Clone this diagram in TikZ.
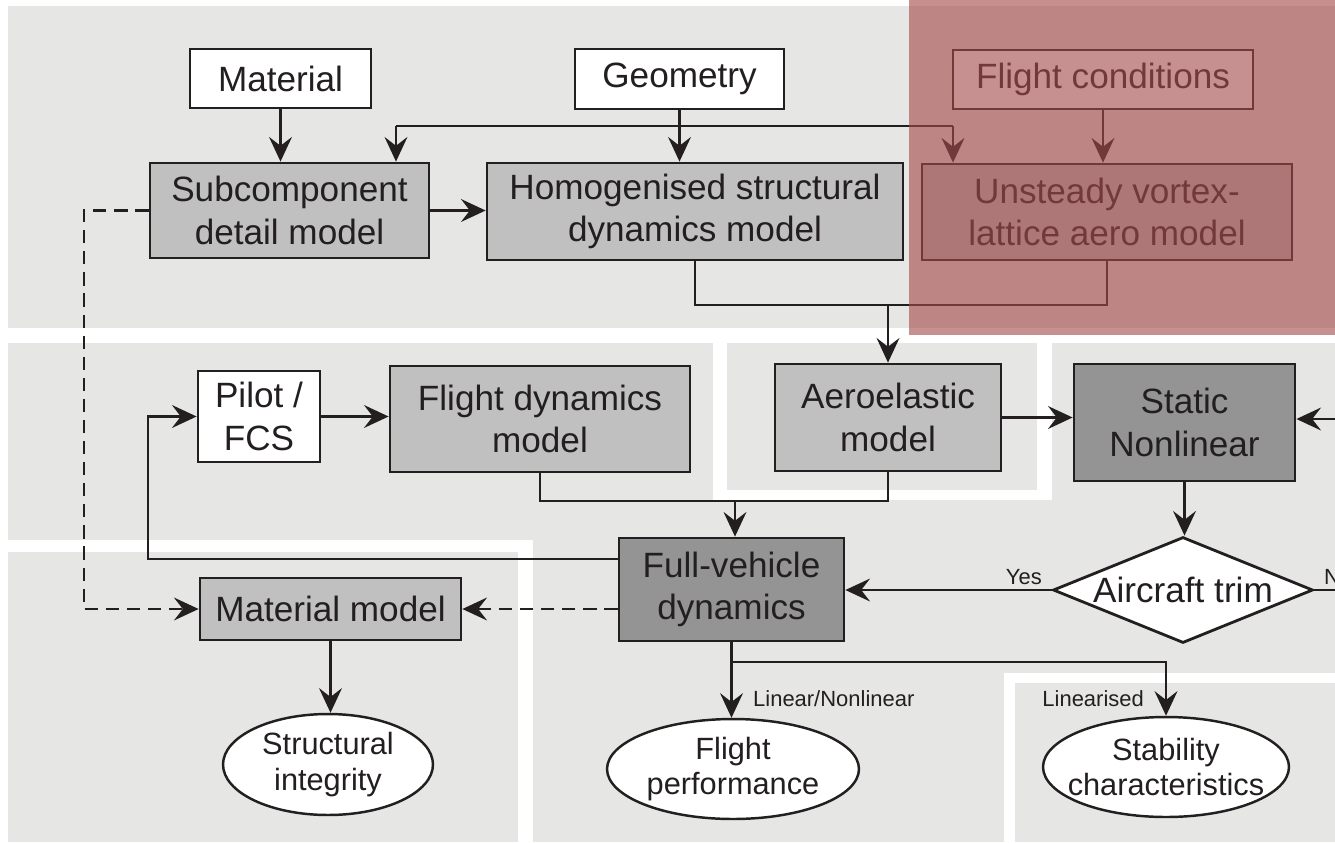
\documentclass[tikz,border=0pt]{standalone}
\usepackage{fontspec}
\setmainfont{Liberation Sans}
\usetikzlibrary{shapes.geometric,arrows.meta}
\definecolor{panel}{RGB}{230,230,228}
\definecolor{ink}{RGB}{35,31,32}
\definecolor{boxlight}{RGB}{192,192,192}
\definecolor{boxdark}{RGB}{148,148,148}
\definecolor{aerored}{RGB}{164,74,74}
\begin{document}
\begin{tikzpicture}[y=-0.02cm,x=0.02cm,
  every node/.style={font=\fontsize{20}{24}\selectfont,text=ink,align=center},
  blk/.style={draw=ink,line width=1.6pt,rectangle,inner sep=0pt},
  inbox/.style={blk,fill=white},
  mdl/.style={blk,fill=boxlight},
  core/.style={blk,fill=boxdark},
  outc/.style={draw=ink,line width=1.4pt,ellipse,fill=white,inner xsep=-15pt,inner ysep=-2pt,font=\fontsize{17.5}{20}\selectfont},
  dec/.style={draw=ink,line width=1.6pt,diamond,fill=white,inner sep=0pt,shape aspect=2.45},
  lbl/.style={font=\fontsize{12.5}{14}\selectfont},
  wire/.style={draw=ink,line width=1.4pt},
  arr/.style={wire,-{Stealth[length=14pt,width=13pt,inset=5pt]}},
  darr/.style={arr,dash pattern=on 7.5pt off 4.5pt}]
\useasboundingbox (0,0) rectangle (1335,842);
\clip (0,0) rectangle (1335,842);
\fill[white] (0,0) rectangle (1335,842);
\fill[panel] (8,6) rectangle (1335,842);
\fill[white] (0,328) rectangle (1335,343);
\fill[white] (713,343) rectangle (727,500);
\fill[white] (713,490) rectangle (1052,500);
\fill[white] (1037,343) rectangle (1052,500);
\fill[white] (0,540) rectangle (533,552);
\fill[white] (518,540) rectangle (533,842);
\fill[white] (1004,673) rectangle (1335,683);
\fill[white] (1004,673) rectangle (1015,842);

\node[inbox,minimum width=3.62cm,minimum height=1.18cm] (mat) at (280.5,78.5) {Material};
\node[inbox,minimum width=4.18cm,minimum height=1.20cm] (geo) at (679.5,79) {Geometry};
\node[inbox,minimum width=6.00cm,minimum height=1.18cm] (fc) at (1103,79.5) {Flight conditions};
\node[mdl,minimum width=5.58cm,minimum height=1.90cm] (sub) at (289.5,210.5) {Subcomponent\\detail model};
\node[mdl,minimum width=8.32cm,minimum height=1.94cm] (hom) at (695,211.5) {Homogenised structural\\dynamics model};
\node[mdl,minimum width=7.40cm,minimum height=1.92cm] (uvl) at (1107,212) {Unsteady vortex-\\lattice aero model};
\node[inbox,minimum width=2.44cm,minimum height=1.82cm] (pilot) at (259,416.5) {Pilot /\\FCS};
\node[mdl,minimum width=6.00cm,minimum height=2.12cm] (fdm) at (540,419) {Flight dynamics\\model};
\node[mdl,minimum width=4.52cm,minimum height=2.14cm] (aero) at (888,417.5) {Aeroelastic\\model};
\node[core,minimum width=4.42cm,minimum height=2.34cm] (sn) at (1184.5,422.5) {Static\\Nonlinear};
\node[dec,minimum width=5.2cm,minimum height=2.12cm] (trim) at (1183,590) {Aircraft trim};
\node[core,minimum width=4.50cm,minimum height=2.06cm] (fvd) at (731.5,589.5) {Full-vehicle\\dynamics};
\node[mdl,minimum width=5.22cm,minimum height=1.24cm] (matm) at (330.5,609) {Material model};
\node[outc,minimum width=4.20cm,minimum height=2.02cm] (si) at (328,764.5) {Structural\\integrity};
\node[outc,minimum width=5.04cm,minimum height=2.00cm] (fp) at (733,769) {Flight\\performance};
\node[outc,minimum width=4.92cm,minimum height=2.00cm] (stab) at (1166,767) {Stability\\characteristics};
\node[lbl,anchor=base east] (yes) at (1048,584) {Yes};
\node[lbl,anchor=base west] (no) at (1318,584) {No};
\node[lbl,anchor=base west] (lin) at (747,706) {Linear/Nonlinear};
\node[lbl,anchor=base east] (lind) at (1150,706) {Linearised};

\coordinate (busl) at (396,126);
\coordinate (busr) at (953,126);
\coordinate (aeroin) at (888,305);
\coordinate (dl) at (84,0);
\coordinate (fb) at (148,559);
\coordinate (mix) at (735,501);
\coordinate (rin) at (1340,419);
\coordinate (rout) at (1340,590);
\coordinate (br) at (731.5,662);

\draw[arr] (mat.south) -- (mat.south |- sub.north);
\draw[arr] (geo.south) -- (geo.south |- hom.north);
\draw[wire] (busl) -- (busr);
\draw[arr] (busl) -- (busl |- sub.north);
\draw[arr] (busr) -- (busr |- uvl.north);
\draw[arr] (fc.south) -- (fc.south |- uvl.north);
\draw[arr] (sub.east) -- (sub.east -| hom.west);
\draw[wire] (hom.south) |- (uvl.south |- aeroin) -- (uvl.south);
\draw[arr] (aeroin) -- (aero.north);
\draw[darr] (sub.west) -| (dl |- matm.west) -- (matm.west);
\draw[darr] (matm.east -| fvd.west) -- (matm.east);
\draw[arr] (fb -| fvd.west) -- (fb) |- (pilot.west);
\draw[arr] (pilot.east) -- (pilot.east -| fdm.west);
\draw[wire] (fdm.south) |- (aero.south |- mix) -- (aero.south);
\draw[arr] (mix) -- (mix |- fvd.north);
\draw[arr] (aero.east) -- (aero.east -| sn.west);
\draw[arr] (rin) -- (rin -| sn.east);
\draw[arr] (sn.south) -- (sn.south |- trim.north);
\draw[arr] (trim.west) -- (trim.west -| fvd.east);
\draw[wire] (trim.east) -- (rout);
\draw[arr] (matm.south) -- (matm.south |- si.north);
\draw[arr] (fvd.south) -- (fvd.south |- fp.north);
\draw[arr] (br) -| (stab.north);

\fill[aerored,fill opacity=0.61] (909,0) rectangle (1335,335);
\end{tikzpicture}
\end{document}
